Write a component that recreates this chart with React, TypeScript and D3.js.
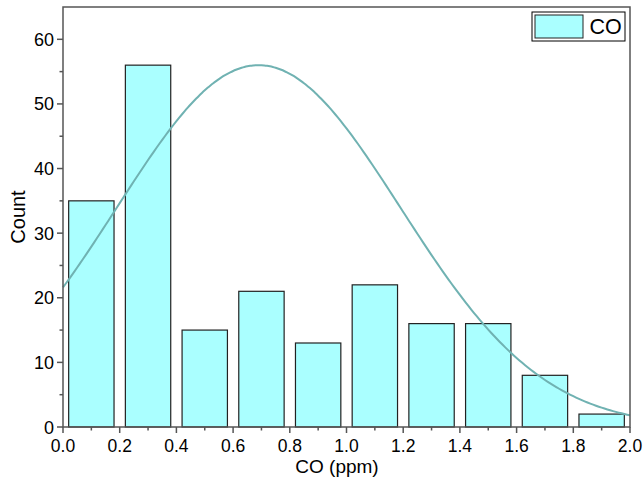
import React from "react";
import * as d3 from "d3";

const binStarts = [0.0, 0.2, 0.4, 0.6, 0.8, 1.0, 1.2, 1.4, 1.6, 1.8];
const counts = [35, 56, 15, 21, 13, 22, 16, 16, 8, 2];
const xTicks = [0.0, 0.2, 0.4, 0.6, 0.8, 1.0, 1.2, 1.4, 1.6, 1.8, 2.0];
const yTicks = [0, 10, 20, 30, 40, 50, 60];
// Normal fit parameters
const fitMean = 0.69;
const fitSigma = 0.5;
const fitPeak = 56;

const W = 643;
const H = 482;
const left = 63, right = 630, top = 7, bottom = 427;
const binWidth = 0.2;
const barPad = 0.02;

export default function App() {
  const x = d3.scaleLinear().domain([0, 2]).range([left, right]);
  const y = d3.scaleLinear().domain([0, 65]).range([bottom, top]);
  const fitXs = d3.range(0, 2.0001, 0.01);
  const line = d3
    .line<number>()
    .x((d) => x(d))
    .y((d) => y(fitPeak * Math.exp(-((d - fitMean) ** 2) / (2 * fitSigma * fitSigma))))
    .curve(d3.curveMonotoneX);
  const xMinor = d3.range(0.1, 2, 0.2);
  const yMinor = d3.range(5, 65, 10);
  const font = "Liberation Sans, Arial, sans-serif";
  const axisColor = "#555";
  return (
    <svg width={W} height={H} style={{ position: "absolute", left: 0, top: 0 }} fontFamily={font}>
      <rect x={0} y={0} width={W} height={H} fill="#fff" />
      {binStarts.map((b, i) => (
        <rect
          key={i}
          x={x(b + barPad)}
          y={y(counts[i])}
          width={x(b + binWidth - barPad) - x(b + barPad)}
          height={y(0) - y(counts[i])}
          fill="#AAFFFF"
          stroke="#222"
          strokeWidth={1.2}
        />
      ))}
      <path d={line(fitXs) || ""} fill="none" stroke="#70B2B2" strokeWidth={2} />
      {/* frame */}
      <rect x={left} y={top} width={right - left} height={bottom - top} fill="none" stroke={axisColor} strokeWidth={1.5} />
      {/* x ticks */}
      {xTicks.map((t) => (
        <g key={"xt" + t}>
          <line x1={x(t)} x2={x(t)} y1={bottom} y2={bottom + 6} stroke={axisColor} strokeWidth={1.5} />
          <text x={x(t)} y={452} textAnchor="middle" fontSize={17.5} fill="#000">
            {t.toFixed(1)}
          </text>
        </g>
      ))}
      {xMinor.map((t) => (
        <line key={"xm" + t} x1={x(t)} x2={x(t)} y1={bottom} y2={bottom + 3.5} stroke={axisColor} strokeWidth={1.5} />
      ))}
      {/* y ticks */}
      {yTicks.map((t) => (
        <g key={"yt" + t}>
          <line x1={left - 6} x2={left} y1={y(t)} y2={y(t)} stroke={axisColor} strokeWidth={1.5} />
          <text x={54} y={y(t) + 6.5} textAnchor="end" fontSize={18} fill="#000">
            {t}
          </text>
        </g>
      ))}
      {yMinor.map((t) => (
        <line key={"ym" + t} x1={left - 3.5} x2={left} y1={y(t)} y2={y(t)} stroke={axisColor} strokeWidth={1.5} />
      ))}
      {/* axis titles */}
      <text x={337} y={473} textAnchor="middle" fontSize={19} fill="#000">
        CO (ppm)
      </text>
      <text
        transform={`translate(25, 217) rotate(-90)`}
        textAnchor="middle"
        fontSize={20}
        fill="#000"
      >
        Count
      </text>
      {/* legend */}
      <rect x={532} y={12} width={93} height={29} fill="#fff" stroke="#000" strokeWidth={1} />
      <rect x={535} y={15} width={48} height={23} fill="#AAFFFF" stroke="#222" strokeWidth={1} />
      <text x={589.5} y={34.3} fontSize={21.5} fill="#000">
        CO
      </text>
    </svg>
  );
}
